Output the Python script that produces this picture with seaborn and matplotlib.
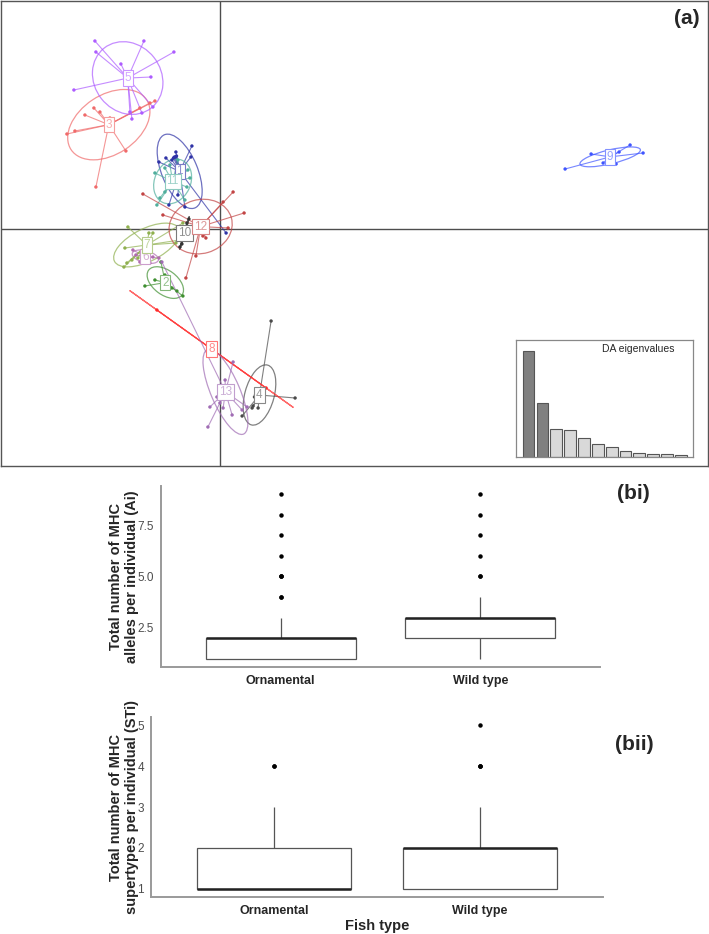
import numpy as np
import pandas as pd
import matplotlib
matplotlib.use("Agg")
import matplotlib.pyplot as plt
from matplotlib.colors import to_rgb
from matplotlib.patches import Ellipse
import seaborn as sns

# DAPC scores (LD1, LD2) of individuals, one pair of lists per cluster
# (several individuals overlap near each cluster centre, under its label)
g1_ld1 = [-1.43, -1.48, -2.73, -3.08, -1.93, -2.13, -2.58, -1.78, 0.28, -2.43, -2.23,
          -2.3, -2.2, -2.35, -2.25]
g1_ld2 = [4.15, 3.6, 3.55, 3.35, 3.1, 1.7, 1.2, 1.1, -0.2, 3.45, 3.85,
          3.6, 3.65, 3.55, 3.6]
g2_ld1 = [-3.78, -2.98, -1.88, -2.18, -3.28, -2.78, -2.43]
g2_ld2 = [-2.85, -1.65, -3.35, -3.1, -2.55, -2.3, -2.95]
g3_ld1 = [-6.33, -6.78, -7.68, -4.73, -3.28, -6.23, -5.58, -5.53, -6.03, -4.03, -3.53, -7.28]
g3_ld2 = [6.05, 5.7, 4.75, 3.9, 6.4, 2.1, 5.05, 5.55, 5.85, 6.05, 6.3, 4.9]
g4_ld1 = [2.53, 3.73, 2.18, 1.08, 1.58, 1.88, 1.63, 1.78,
          1.85, 1.75, 1.95, 1.8, 1.9, 1.7, 2.0, 1.85]
g4_ld2 = [-4.6, -8.45, -8.35, -9.35, -8.95, -8.95, -8.85, -8.65,
          -8.35, -8.3, -8.4, -8.45, -8.25, -8.4, -8.3, -8.2]
g5_ld1 = [-6.28, -6.23, -3.83, -2.33, -7.33, -3.48, -4.43, -3.93, -3.38, -4.98, -4.63, -4.53,
          -4.75, -4.65, -4.8, -4.7]
g5_ld2 = [9.4, 8.85, 9.4, 8.85, 6.95, 7.6, 5.5, 5.8, 6.1, 8.25, 7.3, 5.85,
          7.75, 7.8, 7.65, 7.7]
g6_ld1 = [-4.38, -3.38, -3.08, -4.03, -4.23, -3.68, -3.53]
g6_ld2 = [-1.05, -1.4, -1.45, -1.65, -1.3, -1.15, -1.7]
g7_ld1 = [-4.63, -3.58, -3.38, -1.88, -2.23, -4.78, -4.68, -4.83, -4.43, -4.13, -2.03]
g7_ld2 = [0.1, -0.2, -0.2, 0.3, -0.7, -0.95, -1.7, -1.9, -1.55, -1.45, -0.55]
g8_ld1 = [-3.18, 2.28]
g8_ld2 = [-4.05, -7.95]
g9_ld1 = [17.23, 18.53, 21.13, 20.48, 19.93, 19.13, 19.78, 19.38, 19.65, 19.6]
g9_ld2 = [3.0, 3.75, 3.8, 4.2, 3.85, 3.3, 3.25, 3.5, 3.7, 3.72]
g10_ld1 = [-1.58, -1.68, -2.03, -1.93, -1.78]
g10_ld2 = [0.5, 0.3, -0.9, -0.75, -0.15]
g11_ld1 = [-3.28, -3.18, -1.63, -1.53, -1.68, -1.78, -2.78, -3.03, -2.13, -2.53, -2.78]
g11_ld2 = [2.8, 1.2, 2.95, 2.55, 2.1, 1.45, 1.85, 1.55, 3.45, 3.2, 3.05]
g12_ld1 = [-3.88, 0.63, 1.18, -2.88, -1.73, -1.23, 0.38, 0.13, -0.73, -0.88,
           -1.2, -1.0, -1.1, -0.9, -1.15, -1.05, -0.95, -1.25, -1.1, -1.0, -1.15]
g12_ld2 = [1.75, 1.85, 0.8, 0.7, -2.45, -1.35, 0.05, 1.35, -0.45, -0.35,
           0.1, 0.0, 0.2, -0.05, -0.1, 0.15, 0.1, 0.0, -0.05, 0.25, 0.05]
g13_ld1 = [0.63, -0.63, -0.53, 0.58, 0.13, 1.08, 1.33, -0.18, -0.03, -2.93, 0.23,
           0.45, 0.35, 0.55, 0.4, 0.5, 0.3, 0.6, 0.45, 0.45, 0.35, 0.55, 0.4, 0.5, 0.38, 0.52]
g13_ld2 = [-6.65, -9.9, -8.9, -9.3, -8.95, -9.05, -8.9, -8.4, -8.7, -1.65, -7.55,
           -8.25, -8.2, -8.3, -8.35, -8.15, -8.25, -8.25, -8.1, -8.4, -8.3, -8.2, -8.15,
           -8.35, -8.28, -8.22]

cluster_colors = ["#2f33a6", "#3f8f30", "#f06a6a", "#4a4a4a", "#ad5cff", "#b06ab0",
                  "#8fb04e", "#ff2a2a", "#3f55ff", "#333333", "#4fae9c", "#c24444", "#a06cb4"]

# discriminant analysis eigenvalues (inset)
da_eigenvalues = [106, 54, 28.3, 27.3, 19.3, 12.7, 10, 6.3, 4, 3, 2.7, 1.7]
n_retained = 2

# number of MHC alleles / supertypes per individual
fish_types = ["Ornamental", "Wild type"]
ai_levels = [1, 2, 3, 4, 5, 6, 7, 8, 9]
ai_n_ornamental = [30, 35, 10, 2, 3, 1, 1, 1, 1]
ai_n_wild = [5, 25, 40, 8, 2, 1, 1, 1, 1]
sti_levels = [1, 2, 3, 4, 5]
sti_n_ornamental = [45, 25, 12, 2, 0]
sti_n_wild = [25, 40, 15, 3, 1]


def lighten(color, amount):
    r, g, b = to_rgb(color)
    return (r + (1 - r) * amount, g + (1 - g) * amount, b + (1 - b) * amount)


def counts_to_df(levels, n_orn, n_wild, col):
    vals = np.concatenate([np.repeat(levels, n_orn), np.repeat(levels, n_wild)])
    kind = [fish_types[0]] * int(sum(n_orn)) + [fish_types[1]] * int(sum(n_wild))
    return pd.DataFrame({"fish_type": kind, col: vals})


ld1_lists = [g1_ld1, g2_ld1, g3_ld1, g4_ld1, g5_ld1, g6_ld1, g7_ld1,
             g8_ld1, g9_ld1, g10_ld1, g11_ld1, g12_ld1, g13_ld1]
ld2_lists = [g1_ld2, g2_ld2, g3_ld2, g4_ld2, g5_ld2, g6_ld2, g7_ld2,
             g8_ld2, g9_ld2, g10_ld2, g11_ld2, g12_ld2, g13_ld2]

dapc = pd.concat([pd.DataFrame({"LD1": a, "LD2": b, "cluster": str(i + 1)})
                  for i, (a, b) in enumerate(zip(ld1_lists, ld2_lists))], ignore_index=True)

sns.set_style("white")
plt.rcParams["font.family"] = ["Liberation Sans", "DejaVu Sans"]

W, H = 709, 934
fig = plt.figure(figsize=(W / 100, H / 100), dpi=100)

# ---- (a) DAPC scatter ----
ax = fig.add_axes([1 / W, 1 - 466 / H, 707 / W, 465 / H])
ax.axhline(0, color="#4d4d4d", lw=1, zorder=1)
ax.axvline(0, color="#4d4d4d", lw=1, zorder=1)

for i, (xs, ys) in enumerate(zip(ld1_lists, ld2_lists)):
    col = cluster_colors[i]
    xs, ys = np.array(xs), np.array(ys)
    cx, cy = xs.mean(), ys.mean()
    for x, y in zip(xs, ys):
        ax.plot([cx, x], [cy, y], color=col, lw=0.8, alpha=0.7, zorder=2)
    # 1.5 * sd ellipse, as in s.class
    cov = np.cov(xs, ys, bias=True)
    vals, vecs = np.linalg.eigh(cov)
    vals = np.clip(vals, 0, None)
    angle = np.degrees(np.arctan2(vecs[1, 1], vecs[0, 1]))
    ell = Ellipse((cx, cy), 2 * 1.5 * np.sqrt(vals[1]), 2 * 1.5 * np.sqrt(vals[0]),
                  angle=angle, fill=False, ec=col, lw=0.9, alpha=0.7, zorder=2)
    ax.add_patch(ell)

sns.scatterplot(data=dapc, x="LD1", y="LD2", hue="cluster", palette=cluster_colors,
                s=6, linewidth=0, legend=False, ax=ax, zorder=3)

for i, (xs, ys) in enumerate(zip(ld1_lists, ld2_lists)):
    col = cluster_colors[i]
    ax.text(np.mean(xs), np.mean(ys), str(i + 1), ha="center", va="center", fontsize=8.5,
            color=lighten(col, 0.45), zorder=4,
            bbox=dict(boxstyle="square,pad=0.15", fc="white", ec=lighten(col, 0.35), lw=0.8))

ax.set_xlim(-10.975, 24.375)
ax.set_ylim(-11.85, 11.4)
ax.set_xticks([])
ax.set_yticks([])
ax.set_xlabel("")
ax.set_ylabel("")
for s in ax.spines.values():
    s.set_color("#555555")
    s.set_linewidth(1)
ax.text(0.988, 0.982, "(a)", transform=ax.transAxes, ha="right", va="top",
        fontsize=15, fontweight="bold")

# inset: eigenvalues
axi = fig.add_axes([516 / W, 1 - 457 / H, 177 / W, 117 / H])
bar_cols = ["#808080" if k < n_retained else "#d9d9d9" for k in range(len(da_eigenvalues))]
sns.barplot(x=list(range(len(da_eigenvalues))), y=da_eigenvalues,
            hue=list(range(len(da_eigenvalues))), palette=bar_cols, legend=False,
            width=0.85, edgecolor="#555555", linewidth=0.8, ax=axi)
axi.set_xlim(-0.91, 11.88)
axi.set_ylim(0, 117)
axi.set_xticks([])
axi.set_yticks([])
for s in axi.spines.values():
    s.set_color("#888888")
    s.set_linewidth(0.9)
axi.text(0.69, 0.92, "DA eigenvalues", transform=axi.transAxes, ha="center", va="center",
         fontsize=7.5)

# ---- boxplots ----
ai_df = counts_to_df(ai_levels, ai_n_ornamental, ai_n_wild, "Ai")
sti_df = counts_to_df(sti_levels, sti_n_ornamental, sti_n_wild, "STi")

box_kw = dict(color="white", linecolor="#555555", linewidth=0.9, width=0.75, showcaps=False,
              fliersize=2.2, order=fish_types,
              flierprops=dict(marker="o", markerfacecolor="black", markeredgecolor="black"),
              medianprops=dict(color="#222222", linewidth=1.8))

ax_bi = fig.add_axes([161 / W, 1 - 667 / H, 439 / W, 181 / H])
sns.boxplot(data=ai_df, x="fish_type", y="Ai", ax=ax_bi, **box_kw)
ax_bi.set_ylim(0.6, 9.4)
ax_bi.set_yticks([2.5, 5.0, 7.5])
ax_bi.set_yticklabels(["2.5", "5.0", "7.5"])
ax_bi.set_xlabel("")
ax_bi.set_ylabel("Total number of MHC\nalleles per individual (Ai)", fontsize=10.5,
                 fontweight="bold")
ax_bi.text(1.077, 0.96, "(bi)", transform=ax_bi.transAxes, ha="center", va="center",
           fontsize=15, fontweight="bold")

ax_bii = fig.add_axes([151 / W, 1 - 897 / H, 452 / W, 180 / H])
sns.boxplot(data=sti_df, x="fish_type", y="STi", ax=ax_bii, **box_kw)
ax_bii.set_ylim(0.8, 5.2)
ax_bii.set_yticks([1, 2, 3, 4, 5])
ax_bii.set_xlabel("Fish type", fontsize=10.5, fontweight="bold", labelpad=1)
ax_bii.set_ylabel("Total number of MHC\nsupertypes per individual (STi)", fontsize=10.5,
                  fontweight="bold")
ax_bii.text(1.07, 0.85, "(bii)", transform=ax_bii.transAxes, ha="center", va="center",
            fontsize=15, fontweight="bold")

for a in (ax_bi, ax_bii):
    a.set_xlim(-0.6, 1.6)
    sns.despine(ax=a)
    for side in ("left", "bottom"):
        a.spines[side].set_color("#9a9a9a")
        a.spines[side].set_linewidth(1.4)
    a.tick_params(axis="both", length=3, width=0.8, color="#666666")
    a.tick_params(axis="y", labelsize=8.5, labelcolor="#4d4d4d", pad=2)
    a.tick_params(axis="x", labelsize=9, pad=3)
    for t in a.get_xticklabels():
        t.set_fontweight("bold")
    a.yaxis.set_label_coords(-0.05 if a is ax_bi else -0.027, 0.5)

fig.savefig("out.png", dpi=100)
